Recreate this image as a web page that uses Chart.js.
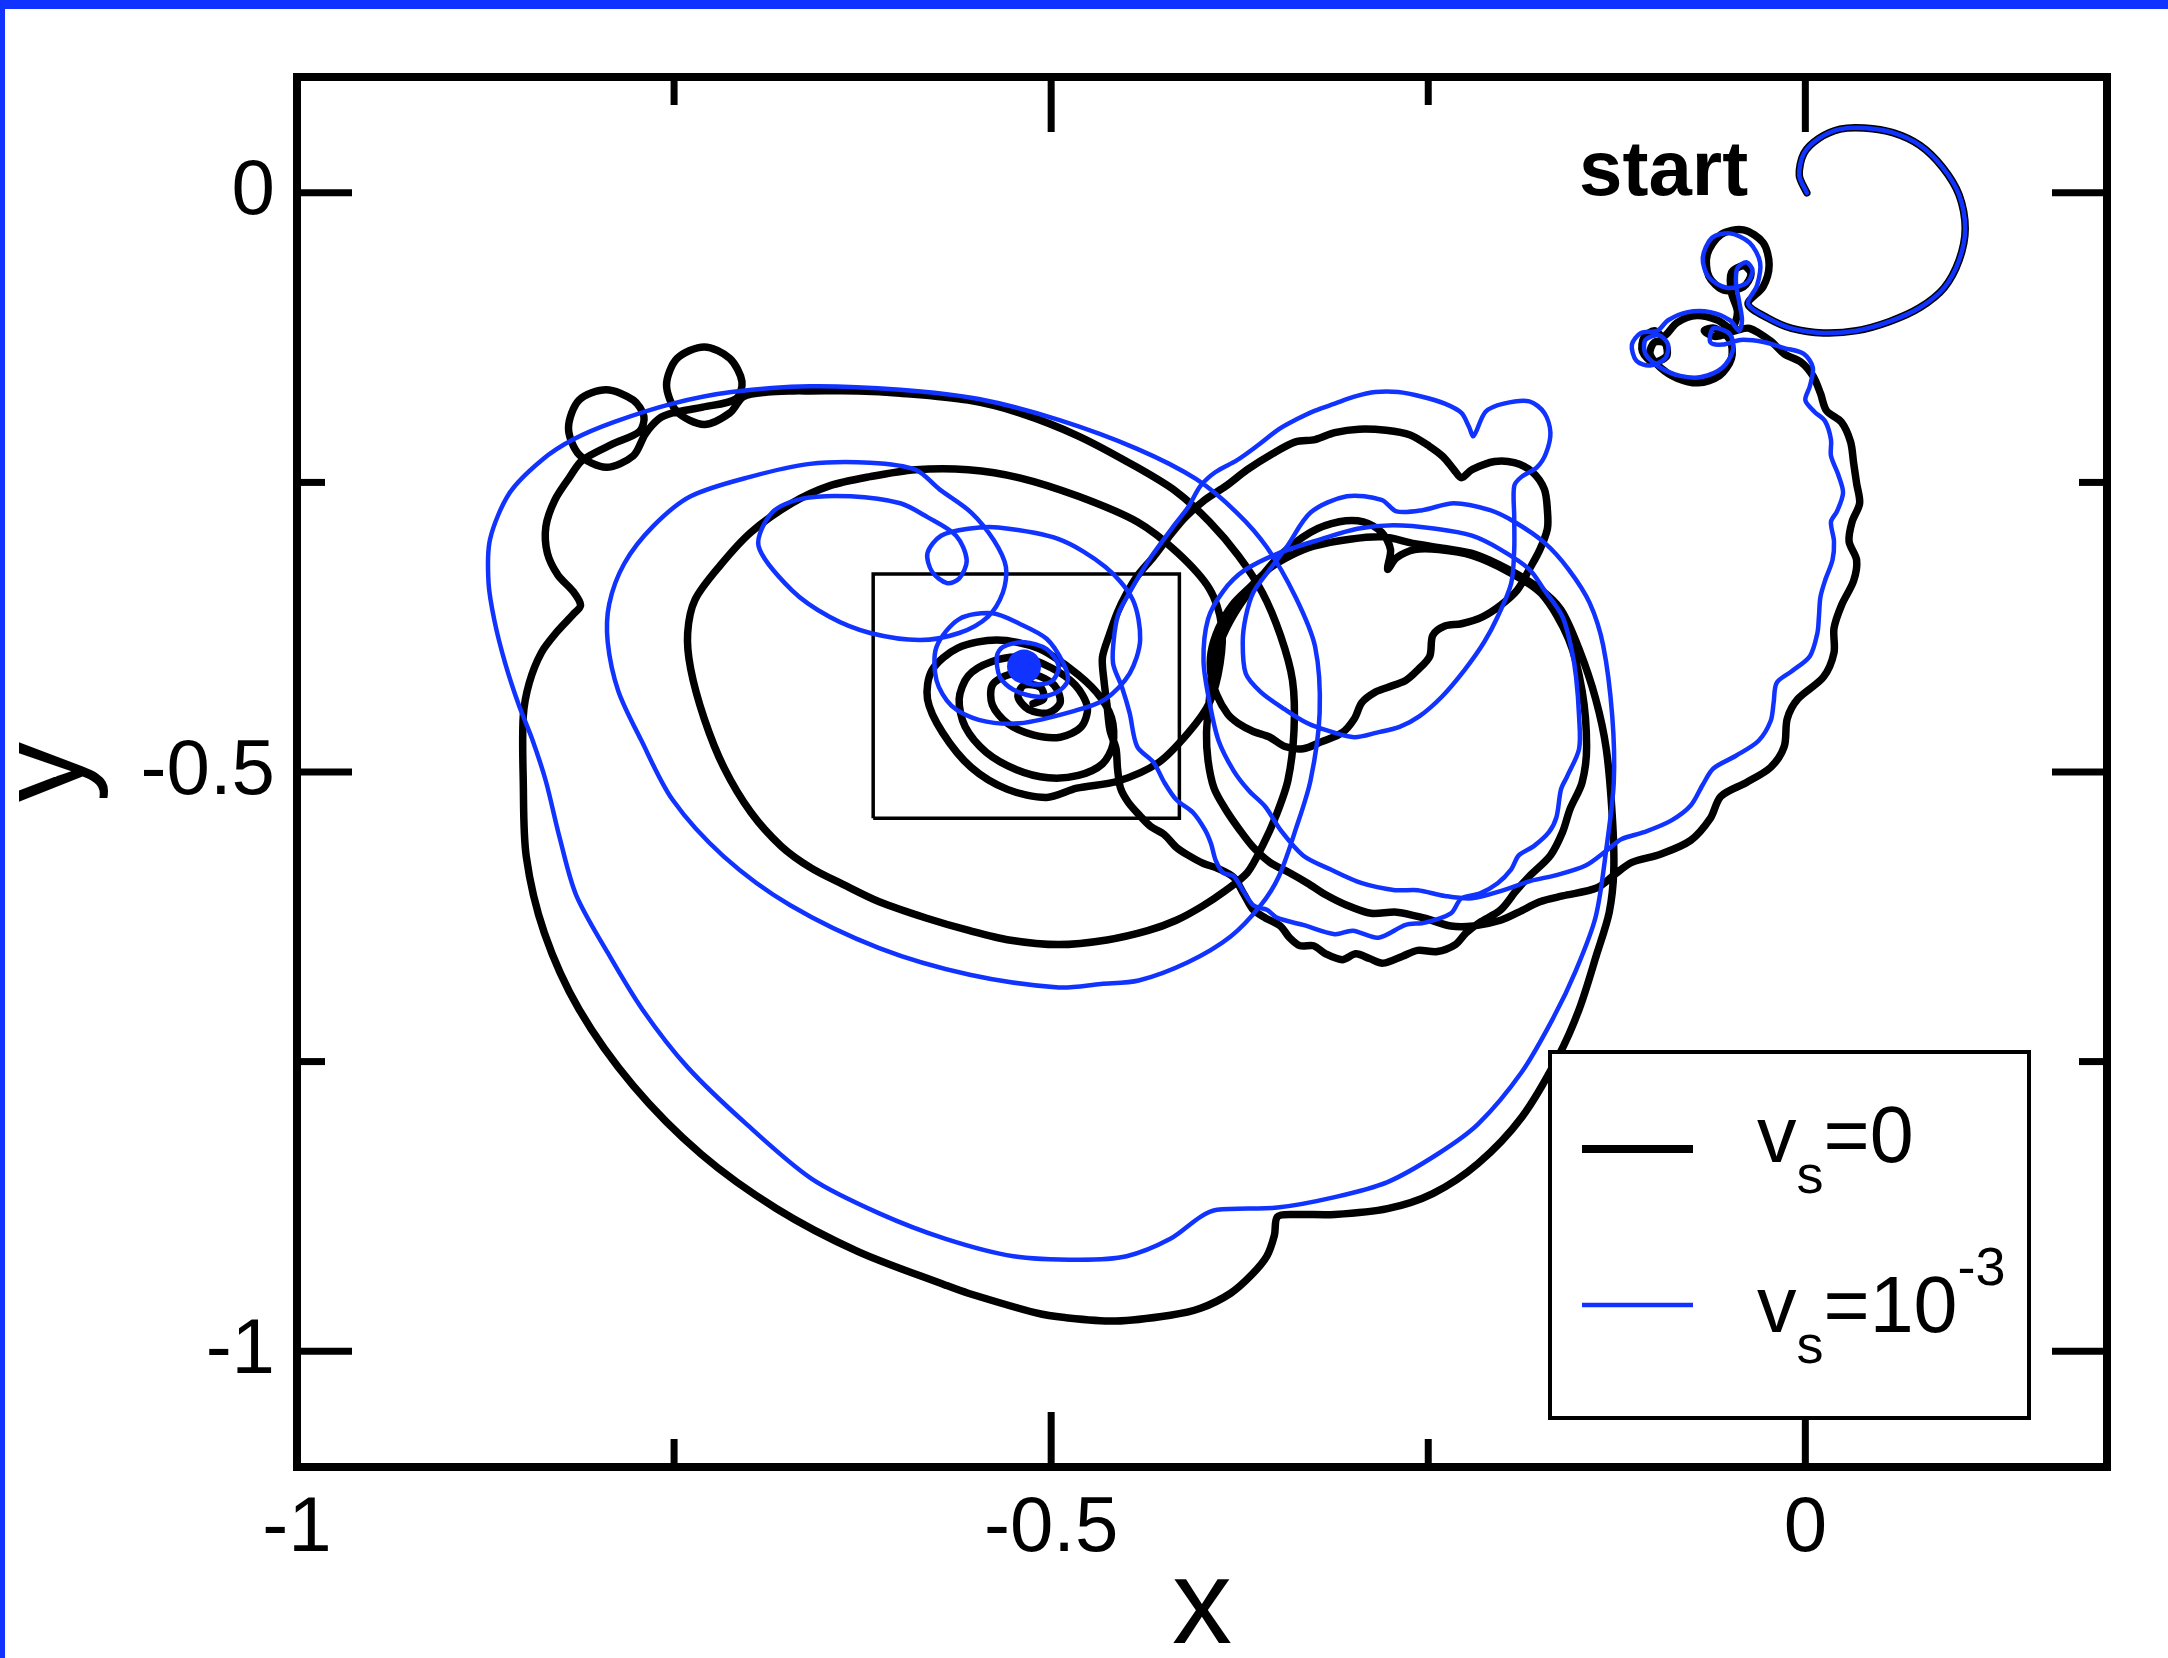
<!DOCTYPE html>
<html>
<head>
<meta charset="utf-8">
<title>Trajectories for v_s = 0 and v_s = 10^-3</title>
<script src="https://cdn.jsdelivr.net/npm/chart.js@4"></script>
<style>
  html, body { margin: 0; padding: 0; background: #fff; overflow: hidden; }
  canvas { display: block; }
</style>
</head>
<body>
<canvas id="traj" width="2168" height="1658"></canvas>
<script>
// ---- axis ticks ----
const xMajor = [-1, -0.5, 0];
const xMinor = [-0.75, -0.25];
const yMajor = [-1, -0.5, 0];
const yMinor = [-0.75, -0.25];

// ---- shared opening loop from the start point (0, 0) ----
const startLoop = [[0.001,0.000],[-0.004,0.015],[-0.001,0.034],[0.009,0.047],[0.023,0.055],[0.039,0.056],[0.058,0.052],[0.076,0.041],[0.091,0.022],[0.102,-0.002],[0.106,-0.031],[0.102,-0.058],[0.092,-0.082],[0.076,-0.099],[0.056,-0.111],[0.034,-0.119],[0.012,-0.121],[-0.009,-0.117],[-0.025,-0.108],[-0.038,-0.096]];

// ---- v_s = 0 trajectory ----
const blackLoops = [[-0.028,-0.081],[-0.024,-0.062],[-0.028,-0.043],[-0.041,-0.032],[-0.056,-0.036],[-0.065,-0.053],[-0.064,-0.072],[-0.054,-0.084],[-0.041,-0.081],[-0.036,-0.070],[-0.041,-0.063],[-0.049,-0.069],[-0.049,-0.086],[-0.045,-0.103],[-0.049,-0.117],[-0.058,-0.110],[-0.072,-0.106],[-0.085,-0.112],[-0.094,-0.124],[-0.100,-0.119],[-0.107,-0.125],[-0.108,-0.137],[-0.101,-0.146],[-0.092,-0.141],[-0.093,-0.130],[-0.100,-0.129],[-0.103,-0.139],[-0.096,-0.151],[-0.085,-0.160],[-0.071,-0.164],[-0.057,-0.158],[-0.049,-0.143],[-0.050,-0.127],[-0.060,-0.117],[-0.067,-0.119],[-0.060,-0.124],[-0.046,-0.119],[-0.037,-0.117]];
const blackDescent = [[-0.023,-0.128],[-0.014,-0.139],[-0.003,-0.146],[0.005,-0.158],[0.010,-0.173],[0.014,-0.188],[0.024,-0.198],[0.030,-0.215],[0.032,-0.233],[0.034,-0.251],[0.036,-0.268],[0.031,-0.284],[0.029,-0.301],[0.034,-0.317],[0.032,-0.335],[0.024,-0.356],[0.019,-0.376],[0.019,-0.397],[0.012,-0.418],[-0.005,-0.437],[-0.012,-0.454],[-0.014,-0.478],[-0.023,-0.496],[-0.039,-0.509],[-0.056,-0.521],[-0.063,-0.540],[-0.076,-0.559],[-0.096,-0.571],[-0.115,-0.578],[-0.126,-0.588],[-0.138,-0.600],[-0.161,-0.607],[-0.176,-0.612],[-0.190,-0.621],[-0.202,-0.628],[-0.220,-0.633]];
const blackRightLoop = [[-0.235,-0.633],[-0.253,-0.626],[-0.271,-0.621],[-0.288,-0.622],[-0.304,-0.615],[-0.318,-0.606],[-0.330,-0.596],[-0.342,-0.587],[-0.355,-0.578],[-0.366,-0.565],[-0.375,-0.550],[-0.384,-0.533],[-0.392,-0.514],[-0.396,-0.490],[-0.397,-0.466],[-0.395,-0.436],[-0.393,-0.409],[-0.386,-0.382],[-0.376,-0.358],[-0.364,-0.337],[-0.349,-0.314],[-0.328,-0.293],[-0.309,-0.284],[-0.293,-0.284],[-0.281,-0.293],[-0.275,-0.308],[-0.277,-0.325],[-0.271,-0.315],[-0.259,-0.308],[-0.243,-0.308],[-0.221,-0.313],[-0.197,-0.327],[-0.175,-0.346],[-0.157,-0.385],[-0.148,-0.430],[-0.145,-0.478],[-0.148,-0.509],[-0.156,-0.532],[-0.161,-0.552],[-0.169,-0.572],[-0.183,-0.590],[-0.192,-0.603],[-0.202,-0.619],[-0.216,-0.630]];
const blackScallop = [[-0.225,-0.639],[-0.232,-0.649],[-0.244,-0.655],[-0.257,-0.654],[-0.267,-0.659],[-0.280,-0.665],[-0.289,-0.661],[-0.298,-0.657],[-0.307,-0.662],[-0.318,-0.657],[-0.326,-0.650],[-0.335,-0.650],[-0.342,-0.643],[-0.348,-0.633],[-0.358,-0.626],[-0.366,-0.619],[-0.372,-0.606],[-0.379,-0.591],[-0.390,-0.583],[-0.399,-0.579],[-0.409,-0.572],[-0.417,-0.565],[-0.425,-0.554],[-0.434,-0.547],[-0.441,-0.538],[-0.449,-0.526],[-0.454,-0.514],[-0.456,-0.497],[-0.457,-0.480],[-0.461,-0.464],[-0.463,-0.442],[-0.465,-0.421],[-0.466,-0.401],[-0.461,-0.380],[-0.456,-0.362],[-0.450,-0.346],[-0.443,-0.331],[-0.432,-0.314],[-0.422,-0.297],[-0.411,-0.280],[-0.398,-0.265],[-0.384,-0.253],[-0.370,-0.239],[-0.353,-0.225],[-0.338,-0.215],[-0.325,-0.213],[-0.312,-0.207],[-0.296,-0.204],[-0.278,-0.205],[-0.262,-0.209],[-0.249,-0.219],[-0.240,-0.228],[-0.233,-0.239],[-0.228,-0.246]];
const blackHeart = [[-0.221,-0.239],[-0.206,-0.232],[-0.193,-0.233],[-0.181,-0.241],[-0.173,-0.256],[-0.171,-0.274],[-0.171,-0.290],[-0.176,-0.308],[-0.183,-0.325],[-0.191,-0.343],[-0.202,-0.356],[-0.214,-0.366],[-0.228,-0.372],[-0.239,-0.374],[-0.247,-0.382],[-0.249,-0.400],[-0.257,-0.412],[-0.265,-0.421],[-0.277,-0.427],[-0.285,-0.431],[-0.294,-0.440],[-0.299,-0.454],[-0.307,-0.466],[-0.321,-0.474],[-0.333,-0.480],[-0.345,-0.478],[-0.355,-0.470],[-0.366,-0.465],[-0.376,-0.458],[-0.383,-0.450],[-0.390,-0.434],[-0.394,-0.416],[-0.394,-0.397],[-0.389,-0.376],[-0.380,-0.356],[-0.367,-0.339],[-0.355,-0.324],[-0.341,-0.313],[-0.326,-0.305],[-0.302,-0.299],[-0.280,-0.297],[-0.259,-0.303],[-0.239,-0.307],[-0.219,-0.312],[-0.197,-0.325],[-0.177,-0.341],[-0.162,-0.360],[-0.150,-0.394]];
const blackOuter = [[-0.139,-0.437],[-0.132,-0.480],[-0.128,-0.538],[-0.127,-0.585],[-0.130,-0.621],[-0.138,-0.656],[-0.150,-0.705],[-0.164,-0.746],[-0.188,-0.798],[-0.217,-0.838],[-0.247,-0.864],[-0.277,-0.877],[-0.312,-0.882],[-0.339,-0.882],[-0.350,-0.884],[-0.352,-0.900],[-0.357,-0.918],[-0.367,-0.934],[-0.381,-0.950],[-0.401,-0.963],[-0.421,-0.969],[-0.457,-0.974],[-0.491,-0.971],[-0.510,-0.967],[-0.555,-0.950],[-0.570,-0.943],[-0.628,-0.914],[-0.682,-0.877],[-0.732,-0.830],[-0.777,-0.771],[-0.813,-0.705],[-0.836,-0.639],[-0.848,-0.573],[-0.850,-0.507],[-0.850,-0.452],[-0.846,-0.423],[-0.838,-0.397],[-0.827,-0.378],[-0.817,-0.364],[-0.812,-0.356],[-0.817,-0.344],[-0.827,-0.330],[-0.834,-0.311],[-0.835,-0.288],[-0.829,-0.265],[-0.819,-0.245]];
const blackSmallLoops = [[-0.811,-0.231],[-0.791,-0.217],[-0.773,-0.206],[-0.770,-0.193],[-0.777,-0.179],[-0.795,-0.170],[-0.813,-0.179],[-0.820,-0.203],[-0.813,-0.226],[-0.795,-0.237],[-0.777,-0.227],[-0.769,-0.208],[-0.760,-0.195],[-0.751,-0.190],[-0.731,-0.185],[-0.709,-0.178],[-0.705,-0.163],[-0.713,-0.143],[-0.730,-0.133],[-0.748,-0.143],[-0.755,-0.166],[-0.748,-0.189],[-0.730,-0.200],[-0.713,-0.190],[-0.704,-0.176],[-0.688,-0.172],[-0.671,-0.171]];
const blackSpiral = [[-0.660,-0.171],[-0.628,-0.171],[-0.600,-0.173],[-0.555,-0.179],[-0.521,-0.190],[-0.482,-0.210],[-0.443,-0.237],[-0.417,-0.258],[-0.395,-0.284],[-0.376,-0.313],[-0.360,-0.345],[-0.348,-0.382],[-0.340,-0.421],[-0.339,-0.464],[-0.343,-0.507],[-0.351,-0.538],[-0.360,-0.564],[-0.370,-0.587],[-0.385,-0.603],[-0.400,-0.616],[-0.417,-0.628],[-0.436,-0.637],[-0.463,-0.645],[-0.495,-0.649],[-0.528,-0.645],[-0.554,-0.637],[-0.583,-0.626],[-0.614,-0.612],[-0.638,-0.597],[-0.659,-0.583],[-0.679,-0.564],[-0.699,-0.535],[-0.717,-0.496],[-0.730,-0.454],[-0.739,-0.411],[-0.741,-0.380],[-0.736,-0.351],[-0.719,-0.321],[-0.699,-0.293],[-0.672,-0.268],[-0.647,-0.253],[-0.620,-0.245],[-0.590,-0.239],[-0.555,-0.239],[-0.521,-0.246],[-0.482,-0.262],[-0.443,-0.284],[-0.416,-0.311],[-0.395,-0.342],[-0.387,-0.373],[-0.388,-0.406],[-0.395,-0.440],[-0.409,-0.466],[-0.429,-0.492],[-0.456,-0.508],[-0.483,-0.514],[-0.503,-0.522],[-0.529,-0.515],[-0.553,-0.496],[-0.572,-0.466],[-0.582,-0.437],[-0.579,-0.412],[-0.562,-0.393],[-0.536,-0.386],[-0.509,-0.393],[-0.487,-0.411],[-0.470,-0.431],[-0.460,-0.453],[-0.459,-0.476],[-0.466,-0.493],[-0.482,-0.503],[-0.502,-0.505],[-0.523,-0.498],[-0.543,-0.483],[-0.557,-0.461],[-0.561,-0.437],[-0.555,-0.417],[-0.540,-0.405],[-0.520,-0.401],[-0.500,-0.410],[-0.484,-0.425],[-0.476,-0.444],[-0.480,-0.461],[-0.494,-0.470],[-0.512,-0.468],[-0.529,-0.458],[-0.539,-0.442],[-0.539,-0.425],[-0.528,-0.416],[-0.511,-0.416],[-0.498,-0.425],[-0.494,-0.440],[-0.502,-0.449],[-0.515,-0.446],[-0.522,-0.435],[-0.518,-0.425],[-0.507,-0.427],[-0.505,-0.437],[-0.512,-0.441]];

// ---- v_s = 1e-3 trajectory ----
const blueLoops = [[-0.032,-0.080],[-0.030,-0.060],[-0.037,-0.043],[-0.050,-0.035],[-0.062,-0.039],[-0.068,-0.056],[-0.064,-0.073],[-0.052,-0.082],[-0.039,-0.078],[-0.035,-0.067],[-0.039,-0.060],[-0.045,-0.065],[-0.046,-0.078],[-0.044,-0.093],[-0.042,-0.110],[-0.044,-0.119],[-0.050,-0.110],[-0.063,-0.103],[-0.078,-0.103],[-0.091,-0.110],[-0.098,-0.119],[-0.109,-0.121],[-0.115,-0.131],[-0.112,-0.145],[-0.103,-0.149],[-0.093,-0.143],[-0.091,-0.131],[-0.097,-0.123],[-0.106,-0.127],[-0.106,-0.139],[-0.096,-0.151],[-0.083,-0.158],[-0.069,-0.159],[-0.055,-0.151],[-0.048,-0.136],[-0.050,-0.122],[-0.061,-0.117],[-0.063,-0.129],[-0.055,-0.131],[-0.043,-0.127],[-0.027,-0.129]];
const blueDescent = [[-0.014,-0.134],[-0.001,-0.139],[0.005,-0.151],[0.003,-0.167],[0.000,-0.179],[0.006,-0.189],[0.013,-0.197],[0.017,-0.213],[0.017,-0.227],[0.022,-0.244],[0.025,-0.259],[0.021,-0.275],[0.017,-0.284],[0.019,-0.301],[0.018,-0.317],[0.013,-0.335],[0.010,-0.349],[0.009,-0.366],[0.008,-0.380],[0.003,-0.400],[-0.009,-0.413],[-0.019,-0.423],[-0.021,-0.440],[-0.023,-0.456],[-0.031,-0.473],[-0.046,-0.486],[-0.061,-0.497],[-0.068,-0.511],[-0.076,-0.529],[-0.089,-0.542],[-0.107,-0.552],[-0.122,-0.558],[-0.131,-0.567],[-0.146,-0.581],[-0.165,-0.589],[-0.182,-0.594],[-0.200,-0.602],[-0.221,-0.609]];
const blueRightLoop = [[-0.239,-0.607],[-0.257,-0.602],[-0.272,-0.602],[-0.294,-0.596],[-0.315,-0.584],[-0.333,-0.572],[-0.348,-0.550],[-0.358,-0.530],[-0.369,-0.516],[-0.379,-0.499],[-0.389,-0.473],[-0.395,-0.440],[-0.399,-0.404],[-0.396,-0.368],[-0.386,-0.344],[-0.372,-0.326],[-0.349,-0.311],[-0.321,-0.299],[-0.297,-0.290],[-0.273,-0.287],[-0.245,-0.290],[-0.221,-0.296],[-0.202,-0.308],[-0.183,-0.325],[-0.173,-0.343],[-0.161,-0.366],[-0.155,-0.394],[-0.152,-0.418],[-0.150,-0.452],[-0.150,-0.480],[-0.158,-0.504],[-0.162,-0.515],[-0.165,-0.539],[-0.170,-0.552],[-0.180,-0.564],[-0.190,-0.572],[-0.195,-0.584],[-0.204,-0.596],[-0.216,-0.605],[-0.228,-0.609]];
const blueScallop = [[-0.235,-0.622],[-0.252,-0.630],[-0.265,-0.632],[-0.283,-0.643],[-0.300,-0.637],[-0.312,-0.640],[-0.333,-0.632],[-0.350,-0.626],[-0.357,-0.619],[-0.366,-0.615],[-0.373,-0.602],[-0.379,-0.590],[-0.386,-0.587],[-0.391,-0.576],[-0.394,-0.562],[-0.398,-0.550],[-0.406,-0.535],[-0.417,-0.524],[-0.425,-0.509],[-0.432,-0.492],[-0.443,-0.478],[-0.448,-0.449],[-0.453,-0.427],[-0.459,-0.406],[-0.458,-0.380],[-0.455,-0.362],[-0.448,-0.345],[-0.440,-0.327],[-0.432,-0.311],[-0.419,-0.288],[-0.409,-0.271],[-0.401,-0.253],[-0.391,-0.241],[-0.377,-0.231],[-0.364,-0.219],[-0.349,-0.204],[-0.338,-0.196],[-0.325,-0.188],[-0.312,-0.182],[-0.299,-0.176],[-0.285,-0.172],[-0.270,-0.172],[-0.254,-0.176],[-0.239,-0.182],[-0.228,-0.190],[-0.223,-0.202],[-0.220,-0.210]];
const blueHeart = [[-0.212,-0.189],[-0.200,-0.182],[-0.183,-0.180],[-0.173,-0.190],[-0.169,-0.207],[-0.172,-0.225],[-0.178,-0.237],[-0.188,-0.245],[-0.193,-0.253],[-0.193,-0.280],[-0.193,-0.308],[-0.195,-0.337],[-0.204,-0.366],[-0.213,-0.388],[-0.226,-0.412],[-0.241,-0.435],[-0.256,-0.452],[-0.269,-0.461],[-0.284,-0.466],[-0.299,-0.470],[-0.315,-0.465],[-0.330,-0.458],[-0.345,-0.446],[-0.361,-0.431],[-0.371,-0.415],[-0.373,-0.388],[-0.371,-0.366],[-0.366,-0.345],[-0.355,-0.325],[-0.344,-0.306],[-0.328,-0.276],[-0.304,-0.262],[-0.281,-0.265],[-0.271,-0.275],[-0.254,-0.274],[-0.233,-0.268],[-0.209,-0.274],[-0.193,-0.284],[-0.173,-0.302],[-0.157,-0.325],[-0.143,-0.354],[-0.134,-0.391]];
const blueOuter = [[-0.128,-0.452],[-0.127,-0.509],[-0.132,-0.567],[-0.139,-0.625],[-0.152,-0.671],[-0.167,-0.712],[-0.188,-0.759],[-0.217,-0.804],[-0.244,-0.830],[-0.277,-0.854],[-0.312,-0.867],[-0.350,-0.876],[-0.390,-0.878],[-0.401,-0.884],[-0.421,-0.903],[-0.450,-0.918],[-0.481,-0.921],[-0.525,-0.918],[-0.570,-0.903],[-0.614,-0.881],[-0.659,-0.851],[-0.702,-0.804],[-0.741,-0.755],[-0.771,-0.705],[-0.794,-0.656],[-0.815,-0.606],[-0.826,-0.556],[-0.835,-0.508],[-0.844,-0.472],[-0.853,-0.442],[-0.862,-0.406],[-0.869,-0.370],[-0.873,-0.337],[-0.872,-0.299],[-0.859,-0.259],[-0.838,-0.231],[-0.817,-0.213],[-0.790,-0.198],[-0.751,-0.182],[-0.712,-0.172],[-0.660,-0.167],[-0.600,-0.170],[-0.548,-0.178],[-0.495,-0.196],[-0.443,-0.221],[-0.404,-0.247],[-0.377,-0.276],[-0.357,-0.306],[-0.338,-0.349],[-0.325,-0.392],[-0.322,-0.449],[-0.328,-0.507],[-0.338,-0.550],[-0.349,-0.590],[-0.361,-0.615],[-0.381,-0.642],[-0.409,-0.664],[-0.442,-0.680],[-0.467,-0.683],[-0.495,-0.686],[-0.554,-0.675],[-0.614,-0.652],[-0.673,-0.615],[-0.717,-0.573],[-0.751,-0.524],[-0.772,-0.472],[-0.787,-0.430],[-0.794,-0.388],[-0.793,-0.355],[-0.783,-0.320],[-0.764,-0.288],[-0.739,-0.262],[-0.699,-0.245],[-0.660,-0.234],[-0.620,-0.233],[-0.590,-0.239]];
const blueInner = [[-0.574,-0.256],[-0.553,-0.276],[-0.538,-0.300],[-0.530,-0.323],[-0.532,-0.345],[-0.542,-0.366],[-0.561,-0.380],[-0.587,-0.386],[-0.620,-0.380],[-0.647,-0.366],[-0.672,-0.343],[-0.694,-0.305],[-0.685,-0.276],[-0.665,-0.264],[-0.633,-0.262],[-0.600,-0.268],[-0.582,-0.280],[-0.563,-0.296],[-0.556,-0.317],[-0.561,-0.333],[-0.569,-0.337],[-0.579,-0.327],[-0.582,-0.311],[-0.573,-0.296],[-0.555,-0.290],[-0.535,-0.289],[-0.495,-0.299],[-0.464,-0.323],[-0.446,-0.351],[-0.441,-0.386],[-0.448,-0.415],[-0.464,-0.437],[-0.484,-0.447],[-0.521,-0.458],[-0.548,-0.455],[-0.566,-0.443],[-0.576,-0.421],[-0.576,-0.392],[-0.561,-0.368],[-0.539,-0.363],[-0.521,-0.372],[-0.503,-0.385],[-0.492,-0.406],[-0.489,-0.421],[-0.496,-0.431],[-0.509,-0.435],[-0.525,-0.429],[-0.534,-0.418],[-0.536,-0.400],[-0.532,-0.392],[-0.518,-0.388],[-0.503,-0.394],[-0.495,-0.409],[-0.500,-0.422],[-0.514,-0.424],[-0.523,-0.416],[-0.520,-0.406],[-0.518,-0.409]];
const blueEnd = [[-0.518,-0.409]];

// ---- zoom-window frame around the attractor ----
const insetX = [-0.618, -0.415];
const insetY = [-0.540, -0.329];

const BLUE = 'rgb(17,51,255)';
const FONT = '"Liberation Sans", Arial, Helvetica, sans-serif';

const toPoints = segs => [].concat(...segs).map(([x, y]) => ({x, y}));
const blackData = toPoints([startLoop, blackLoops, blackDescent, blackRightLoop, blackScallop, blackHeart, blackOuter, blackSmallLoops, blackSpiral]);
const blueData = toPoints([startLoop, blueLoops, blueDescent, blueRightLoop, blueScallop, blueHeart, blueOuter, blueInner]);
const insetData = toPoints([[[insetX[0], insetY[0]], [insetX[1], insetY[0]], [insetX[1], insetY[1]], [insetX[0], insetY[1]], [insetX[0], insetY[0]]]]);

// page decoration, frame with inward ticks, labels and legend
const decor = {
  id: 'decor',
  beforeDraw(chart) {
    const {ctx, width, height} = chart;
    ctx.save();
    ctx.fillStyle = '#fff';
    ctx.fillRect(0, 0, width, height);
    ctx.fillStyle = BLUE;
    ctx.fillRect(0, 0, width, 9);
    ctx.fillRect(0, 0, 5, height);
    ctx.restore();
  },
  afterDatasetsDraw(chart) {
    const {ctx, chartArea: a, scales: {x: sx, y: sy}} = chart;
    ctx.save();
    ctx.strokeStyle = '#000';
    ctx.lineWidth = 8;
    ctx.lineJoin = 'miter';
    ctx.strokeRect(a.left, a.top, a.right - a.left, a.bottom - a.top);
    const seg = (x1, y1, x2, y2) => { ctx.beginPath(); ctx.moveTo(x1, y1); ctx.lineTo(x2, y2); ctx.stroke(); };
    ctx.lineWidth = 7;
    [[xMajor, 55], [xMinor, 28]].forEach(([vals, len]) => vals.forEach(v => {
      const p = sx.getPixelForValue(v);
      seg(p, a.bottom, p, a.bottom - len);
      seg(p, a.top, p, a.top + len);
    }));
    [[yMajor, 55], [yMinor, 28]].forEach(([vals, len]) => vals.forEach(v => {
      const p = sy.getPixelForValue(v);
      seg(a.left, p, a.left + len, p);
      seg(a.right, p, a.right - len, p);
    }));

    // start marker label
    ctx.fillStyle = '#000';
    ctx.font = 'bold 78px ' + FONT;
    ctx.textAlign = 'left';
    ctx.textBaseline = 'alphabetic';
    ctx.fillText('start', sx.getPixelForValue(-0.150), sy.getPixelForValue(-0.002));

    // axis titles
    ctx.font = '120px ' + FONT;
    ctx.textAlign = 'center';
    ctx.fillText('x', (a.left + a.right) / 2, 1643);
    ctx.save();
    ctx.translate(83, (a.top + a.bottom) / 2);
    ctx.rotate(-Math.PI / 2);
    ctx.fillText('y', 0, 0);
    ctx.restore();

    // legend
    const L = {x: 1550, y: 1052, w: 479, h: 366};
    ctx.fillStyle = '#fff';
    ctx.fillRect(L.x, L.y, L.w, L.h);
    ctx.lineWidth = 4;
    ctx.strokeStyle = '#000';
    ctx.strokeRect(L.x, L.y, L.w, L.h);
    ctx.lineWidth = 8;
    seg(1582, 1149, 1693, 1149);
    ctx.strokeStyle = BLUE;
    ctx.lineWidth = 4.5;
    seg(1582, 1305, 1693, 1305);
    ctx.fillStyle = '#000';
    ctx.textAlign = 'left';
    const big = '79px ' + FONT, small = '54px ' + FONT;
    const run = (parts, x0) => {
      let x = x0;
      parts.forEach(([t, f, y]) => { ctx.font = f; ctx.fillText(t, x, y); x += ctx.measureText(t).width; });
    };
    run([['v', big, 1162], ['s', small, 1193], ['=0', big, 1162]], 1757);
    run([['v', big, 1332], ['s', small, 1363], ['=10', big, 1332], ['-3', small, 1285]], 1757);
    ctx.restore();
  }
};

Chart.defaults.font.family = FONT;

new Chart(document.getElementById('traj'), {
  type: 'scatter',
  data: {
    datasets: [
      { label: 'end', data: toPoints([blueEnd]), showLine: false, pointRadius: 17, pointBackgroundColor: BLUE, pointBorderWidth: 0, order: 0 },
      { label: 'v_s=10^-3', data: blueData, showLine: true, borderColor: BLUE, borderWidth: 4.5, pointRadius: 0, tension: 0.3, borderJoinStyle: 'round', borderCapStyle: 'round', order: 1 },
      { label: 'v_s=0', data: blackData, showLine: true, borderColor: '#000', borderWidth: 7.5, pointRadius: 0, tension: 0.3, borderJoinStyle: 'round', borderCapStyle: 'round', order: 2 },
      { label: 'window', data: insetData, showLine: true, borderColor: '#000', borderWidth: 3.5, pointRadius: 0, tension: 0, order: 3 }
    ]
  },
  options: {
    responsive: false,
    animation: false,
    devicePixelRatio: 1,
    events: [],
    layout: { padding: { top: 77, right: 61, left: 0, bottom: 0 } },
    plugins: { legend: { display: false }, tooltip: { enabled: false } },
    scales: {
      x: {
        type: 'linear', min: -1, max: 0.2,
        afterBuildTicks: s => { s.ticks = xMajor.map(v => ({value: v})); },
        afterFit: s => { s.height = 191; },
        grid: { display: false, drawTicks: false },
        border: { display: false },
        ticks: { color: '#000', font: { size: 78 }, padding: 16, maxRotation: 0, autoSkip: false, callback: v => String(v) }
      },
      y: {
        type: 'linear', min: -1.1, max: 0.1,
        afterBuildTicks: s => { s.ticks = yMajor.map(v => ({value: v})); },
        afterFit: s => { s.width = 297; },
        grid: { display: false, drawTicks: false },
        border: { display: false },
        ticks: { color: '#000', font: { size: 78 }, padding: 22, autoSkip: false, callback: v => String(v) }
      }
    }
  },
  plugins: [decor]
});
</script>
</body>
</html>
